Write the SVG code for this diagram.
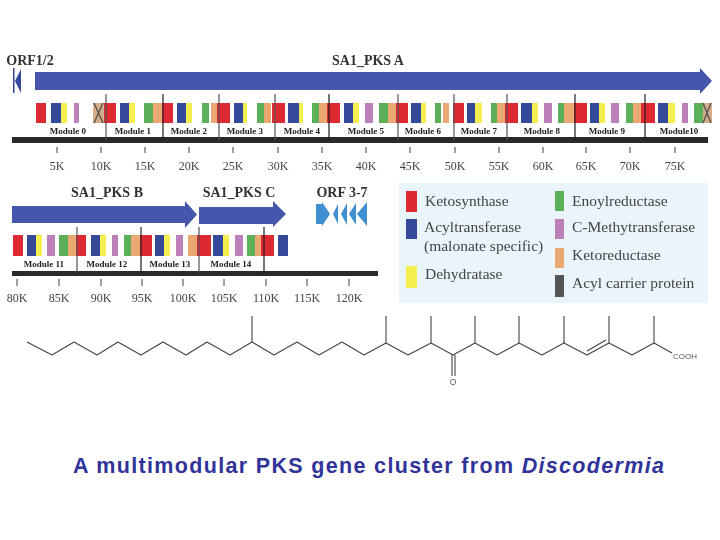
<svg xmlns="http://www.w3.org/2000/svg" width="720" height="540" viewBox="0 0 720 540">
<defs>
<filter id="soft" x="-5%" y="-5%" width="110%" height="110%"><feGaussianBlur stdDeviation="0.6"/></filter>
<filter id="softT" x="-5%" y="-20%" width="110%" height="140%"><feGaussianBlur stdDeviation="0.4"/></filter>
</defs>
<style>
.ks{fill:#dd2a33}.at{fill:#34489b}.dh{fill:#f4ee50}.er{fill:#5cb05a}.cm{fill:#bd7fb8}.kr{fill:#eba873}.acp{fill:#555}.x{fill:#d8ae8a}
.pks{fill:#4456ac}
.orf{fill:#3f8fd0}
.t{font-family:"Liberation Serif",serif;fill:#333}
.title{font-size:14px;font-weight:bold;text-anchor:middle}
.mod{font-size:9px;font-weight:bold;text-anchor:middle;fill:#222}
.kb{font-size:12px;text-anchor:middle;fill:#444}
.leg{font-size:15.500px;fill:#444}
.div{stroke:#555;stroke-width:1.2;fill:none}
.divd{stroke:#222;stroke-width:1.2;fill:none}
.axis{fill:#2a2a2a}
.tick{stroke:#444;stroke-width:1;fill:none}
.bond{stroke:#444;stroke-width:1.1;fill:none;stroke-linejoin:round}
.cap{font-family:"Liberation Sans",Arial,sans-serif;font-size:21.500px;font-weight:bold;fill:#303399}
</style>
<rect width="720" height="540" fill="#fff"/>

<g id="row-a" filter="url(#soft)">
<path id="pks-a" class="pks" d="M35 72H700V68L712 81L700 94V90H35Z"/>
<g id="orf12"><path class="at" d="M13 68h1.500v25H13Z"/><path class="at" d="M21 69V93L15 81Z"/></g>
<g id="genes-a">
<rect class="ks" x="36" y="103" width="10" height="20"/><rect class="at" x="51" y="103" width="10" height="20"/><rect class="dh" x="61" y="103" width="6" height="20"/><rect class="cm" x="74" y="103" width="5" height="20"/>
<rect class="x" x="93" y="103" width="11" height="20"/><path d="M94 103L103 123M103 103L94 123" stroke="#555" stroke-width="1.400"/>
<rect class="ks" x="104" y="103" width="12" height="20"/><rect class="at" x="120" y="103" width="9" height="20"/><rect class="dh" x="129" y="103" width="6" height="20"/><rect class="er" x="144" y="103" width="9" height="20"/><rect class="kr" x="153" y="103" width="9" height="20"/>
<rect class="ks" x="162" y="103" width="11" height="20"/><rect class="at" x="177" y="103" width="9" height="20"/><rect class="dh" x="186" y="103" width="6" height="20"/><rect class="er" x="202" y="103" width="7" height="20"/><rect class="kr" x="211" y="103" width="6" height="20"/>
<rect class="ks" x="217" y="103" width="13" height="20"/><rect class="at" x="234" y="103" width="9" height="20"/><rect class="dh" x="243" y="103" width="4" height="20"/><rect class="er" x="257" y="103" width="7" height="20"/><rect class="kr" x="264" y="103" width="7" height="20"/>
<rect class="ks" x="272" y="103" width="13" height="20"/><rect class="at" x="288" y="103" width="11" height="20"/><rect class="dh" x="299" y="103" width="4" height="20"/><rect class="er" x="312" y="103" width="7" height="20"/><rect class="kr" x="319" y="103" width="8" height="20"/>
<rect class="ks" x="327" y="103" width="13" height="20"/><rect class="at" x="344" y="103" width="9" height="20"/><rect class="dh" x="353" y="103" width="6" height="20"/><rect class="cm" x="365" y="103" width="8" height="20"/><rect class="er" x="379" y="103" width="9" height="20"/><rect class="kr" x="388" y="103" width="8" height="20"/>
<rect class="ks" x="396" y="103" width="12" height="20"/><rect class="at" x="411" y="103" width="10" height="20"/><rect class="dh" x="421" y="103" width="5" height="20"/><rect class="er" x="435" y="103" width="6" height="20"/><rect class="kr" x="443" y="103" width="6" height="20"/>
<rect class="ks" x="453" y="103" width="11" height="20"/><rect class="at" x="467" y="103" width="8" height="20"/><rect class="dh" x="475" y="103" width="7" height="20"/><rect class="er" x="491" y="103" width="6" height="20"/><rect class="kr" x="497" y="103" width="8" height="20"/>
<rect class="ks" x="505" y="103" width="13" height="20"/><rect class="at" x="521" y="103" width="11" height="20"/><rect class="dh" x="532" y="103" width="6" height="20"/><rect class="cm" x="544" y="103" width="8" height="20"/><rect class="er" x="558" y="103" width="6" height="20"/><rect class="kr" x="564" y="103" width="10" height="20"/>
<rect class="ks" x="574" y="103" width="13" height="20"/><rect class="at" x="590" y="103" width="9" height="20"/><rect class="dh" x="599" y="103" width="6" height="20"/><rect class="cm" x="611" y="103" width="8" height="20"/><rect class="er" x="626" y="103" width="7" height="20"/><rect class="kr" x="633" y="103" width="8" height="20"/>
<rect class="ks" x="641" y="103" width="14" height="20"/><rect class="at" x="658" y="103" width="10" height="20"/><rect class="dh" x="668" y="103" width="7" height="20"/><rect class="cm" x="682" y="103" width="6" height="20"/><rect class="er" x="694" y="103" width="9" height="20"/>
<rect class="x" x="703" y="103" width="9" height="20"/><path d="M703 103L711 123M711 103L703 123" stroke="#555" stroke-width="1.400"/>
</g>
<rect class="axis" x="12" y="137" width="696" height="6"/>
<path class="div" d="M106 94V140M219 94V140M275 94V140M398 94V140M454 94V140M507 94V140"/>
<path class="divd" d="M163 94V140M329 94V140M575 94V140M645 94V140"/>
<path class="tick" d="M57 147V153M101 147V153M145 147V153M189 147V153M233 147V153M278 147V153M322 147V153M366 147V153M410 147V153M455 147V153M499 147V153M543 147V153M586 147V153M630 147V153M675 147V153"/>
</g>

<g id="row-b" filter="url(#soft)">
<path id="pks-b" class="pks" d="M12 206H185V201L197 214.500L185 228V223H12Z"/>
<path id="pks-c" class="pks" d="M199 207H273V201L286 214L273 227V224H199Z"/>
<g id="orf37"><path class="orf" d="M316 204H322V202L330 214L322 226V224H316Z"/><path class="orf" d="M333 214L338 204V224Z"/><path class="orf" d="M341 214L347 203V225Z"/><path class="orf" d="M349 214L356 203V225Z"/><path class="orf" d="M357 214L367 202V226Z"/></g>
<g id="genes-b">
<rect class="ks" x="13" y="235" width="10" height="21"/><rect class="at" x="27" y="235" width="9" height="21"/><rect class="dh" x="36" y="235" width="6" height="21"/><rect class="cm" x="47" y="235" width="8" height="21"/><rect class="er" x="59" y="235" width="9" height="21"/><rect class="kr" x="68" y="235" width="8" height="21"/>
<rect class="ks" x="76" y="235" width="10" height="21"/><rect class="at" x="91" y="235" width="9" height="21"/><rect class="dh" x="100" y="235" width="6" height="21"/><rect class="cm" x="112" y="235" width="6" height="21"/><rect class="er" x="124" y="235" width="7" height="21"/><rect class="kr" x="131" y="235" width="9" height="21"/>
<rect class="ks" x="140" y="235" width="12" height="21"/><rect class="at" x="155" y="235" width="9" height="21"/><rect class="dh" x="164" y="235" width="6" height="21"/><rect class="cm" x="176" y="235" width="7" height="21"/><rect class="kr" x="188" y="235" width="9" height="21"/>
<rect class="ks" x="197" y="235" width="14" height="21"/><rect class="at" x="213" y="235" width="10" height="21"/><rect class="dh" x="223" y="235" width="6" height="21"/><rect class="cm" x="235" y="235" width="8" height="21"/><rect class="er" x="247" y="235" width="8" height="21"/><rect class="kr" x="255" y="235" width="6" height="21"/>
<rect class="ks" x="261" y="235" width="13" height="21"/><rect class="at" x="278" y="235" width="10" height="21"/>
</g>
<rect class="axis" x="12" y="271" width="366" height="5"/>
<path class="div" d="M77 227V273M199 227V273"/>
<path class="divd" d="M141 227V273M264 227V273"/>
<path class="tick" d="M17 279V286M59 279V286M101 279V286M142 279V286M183 279V286M224 279V286M266 279V286M307 279V286M349 279V286"/>
</g>

<g id="labels" filter="url(#softT)">
<text class="t title" x="30" y="65">ORF1/2</text>
<text class="t title" x="368" y="65">SA1_PKS A</text>
<text class="t title" x="107" y="197">SA1_PKS B</text>
<text class="t title" x="239" y="197">SA1_PKS C</text>
<text class="t title" x="342" y="197">ORF 3-7</text>
<text class="t mod" x="68" y="134">Module 0</text><text class="t mod" x="133" y="134">Module 1</text><text class="t mod" x="189" y="134">Module 2</text><text class="t mod" x="245" y="134">Module 3</text><text class="t mod" x="302" y="134">Module 4</text><text class="t mod" x="366" y="134">Module 5</text><text class="t mod" x="423" y="134">Module 6</text><text class="t mod" x="479" y="134">Module 7</text><text class="t mod" x="542" y="134">Module 8</text><text class="t mod" x="607" y="134">Module 9</text><text class="t mod" x="679" y="134">Module10</text>
<text class="t mod" x="44" y="267">Module 11</text><text class="t mod" x="107" y="267">Module 12</text><text class="t mod" x="170" y="267">Module 13</text><text class="t mod" x="231" y="267">Module 14</text>
<text class="t kb" x="57" y="170">5K</text><text class="t kb" x="101" y="170">10K</text><text class="t kb" x="145" y="170">15K</text><text class="t kb" x="189" y="170">20K</text><text class="t kb" x="233" y="170">25K</text><text class="t kb" x="278" y="170">30K</text><text class="t kb" x="322" y="170">35K</text><text class="t kb" x="366" y="170">40K</text><text class="t kb" x="410" y="170">45K</text><text class="t kb" x="455" y="170">50K</text><text class="t kb" x="499" y="170">55K</text><text class="t kb" x="543" y="170">60K</text><text class="t kb" x="586" y="170">65K</text><text class="t kb" x="630" y="170">70K</text><text class="t kb" x="675" y="170">75K</text>
<text class="t kb" x="17" y="302">80K</text><text class="t kb" x="59" y="302">85K</text><text class="t kb" x="101" y="302">90K</text><text class="t kb" x="142" y="302">95K</text><text class="t kb" x="183" y="302">100K</text><text class="t kb" x="224" y="302">105K</text><text class="t kb" x="266" y="302">110K</text><text class="t kb" x="307" y="302">115K</text><text class="t kb" x="349" y="302">120K</text>
</g>

<g id="legend">
<rect x="399" y="183" width="309" height="120" fill="#e9f4fb"/>
<g filter="url(#soft)">
<rect class="ks" x="406" y="191" width="11" height="21"/><rect class="at" x="406" y="219" width="11" height="20"/><rect class="dh" x="406" y="266" width="11" height="22"/>
<rect class="er" x="555" y="191" width="9" height="20"/><rect class="cm" x="555" y="219" width="9" height="20"/><rect class="kr" x="555" y="248" width="9" height="20"/><rect class="acp" x="555" y="275" width="9" height="22"/>
</g>
<g filter="url(#softT)">
<text class="t leg" x="425" y="206">Ketosynthase</text>
<text class="t leg" x="424" y="232">Acyltransferase</text>
<text class="t leg" x="424" y="251">(malonate specific)</text>
<text class="t leg" x="425" y="279">Dehydratase</text>
<text class="t leg" x="572" y="206">Enoylreductase</text>
<text class="t leg" x="572" y="232">C-Methytransferase</text>
<text class="t leg" x="572" y="260">Ketoreductase</text>
<text class="t leg" x="572" y="288">Acyl carrier protein</text>
</g>
</g>

<g id="molecule" filter="url(#softT)">
<path class="bond" d="M27 342L52 355L74 342L97 355L118 342L141 355L163 342L186 355L207 342L230 355L252 342L274 355L297 342L319 355L342 342L364 355L386 343L408 355L431 343L453 355L475 343L497 355L519 343L542 355L564 343L587 355L609 343L632 355L654 343L672 353"/>
<path class="bond" d="M252 342V316M386 343V316M431 343V316M475 343V316M519 343V316M564 343V316M609 343V316M654 343V316"/>
<path class="bond" d="M452 355V376M455 355V376M587 351L606 340"/>
<text x="453" y="385" font-family="Liberation Sans, sans-serif" font-size="8.500" fill="#555" text-anchor="middle">O</text>
<text x="673" y="359" font-family="Liberation Sans, sans-serif" font-size="8" fill="#555">COOH</text>
</g>

<text id="caption" class="cap" x="73" y="473" textLength="591" lengthAdjust="spacing">A multimodular PKS gene cluster from <tspan font-style="italic">Discodermia</tspan></text>
</svg>
